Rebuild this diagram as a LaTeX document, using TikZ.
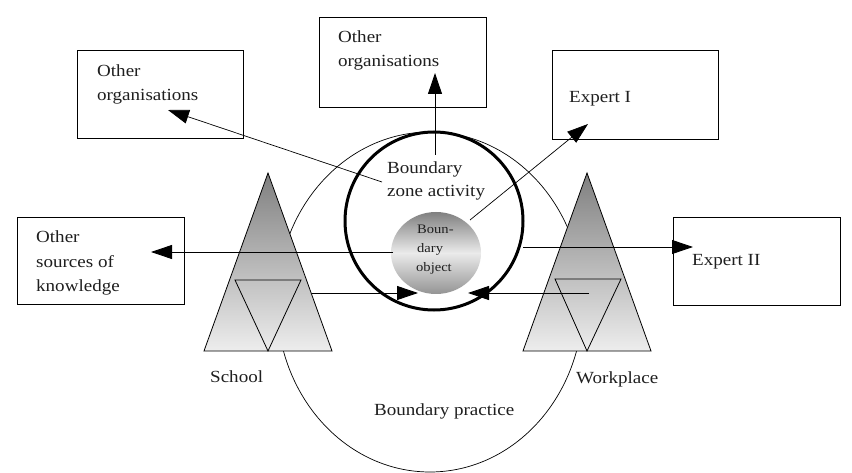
\documentclass[tikz,border=0pt]{standalone}
\usepackage{fontspec}
\setmainfont{Liberation Serif}[FakeStretch=1.12]
\usetikzlibrary{arrows.meta,shapes.geometric}

% banded grey of the boundary object: dark rim at top and bottom, light middle
\pgfdeclareverticalshading{objshade}{100bp}{%
  color(0bp)=(black!42); color(25bp)=(black!42); color(50bp)=(black!8);
  color(75bp)=(black!50); color(100bp)=(black!50)}

\begin{document}
\begin{tikzpicture}[x=1pt,y=-1pt,
  box/.style={draw, line width=1.2pt, inner sep=0pt, anchor=north west},
  lbl/.style={anchor=base west, inner sep=0pt, font=\fontsize{17}{20}\selectfont, text=black!88},
  small/.style={anchor=base west, inner sep=0pt, font=\fontsize{13}{15}\selectfont, text=black!88},
  link/.style={line width=0.9pt, -{Triangle[length=21pt,width=14pt]}},
  tri/.style={draw, line width=0.8pt, top color=black!50, bottom color=black!7},
  inner/.style={draw, line width=0.8pt},
]
\useasboundingbox[fill=white] (0,0) rectangle (852,473);

% outer boxes
\node[box, minimum width=166pt, minimum height=88pt] (orgL) at (77,50) {};
\node[box, minimum width=167pt, minimum height=90pt] (orgT) at (319,17) {};
\node[box, minimum width=166pt, minimum height=89pt] (expI) at (552,50) {};
\node[box, minimum width=167pt, minimum height=87pt] (src) at (17,217) {};
\node[box, minimum width=167pt, minimum height=88pt] (expII) at (673,217) {};

\node[lbl] (orgLa) at (97,77) {Other};
\node[lbl] (orgLb) at (97,101) {organisations};
\node[lbl] (orgTa) at (338,43) {Other};
\node[lbl] (orgTb) at (338,67) {organisations};
\node[lbl] (expIa) at (569,103) {Expert I};
\node[lbl] (srca) at (36,243) {Other};
\node[lbl] (srcb) at (36,268) {sources of};
\node[lbl] (srcc) at (36,291) {knowledge};
\node[lbl] (expIIa) at (692,266) {Expert II};

% boundary practice (thin ring behind the two activity systems)
\draw[line width=0.7pt] (430,302) ellipse [x radius=153pt, y radius=170pt];

% activity systems
\path[tri] (268,173) -- (332,351) -- (204,351) -- cycle;
\draw[inner] (235,280) -- (301,280) -- (268,351) -- cycle;
\path[tri] (587,173) -- (651,351) -- (523,351) -- cycle;
\draw[inner] (555,279) -- (621,279) -- (587,351) -- cycle;

% boundary zone and boundary object
\node[circle, draw, line width=3pt, minimum size=178pt, inner sep=0pt] (zone) at (434,221) {};
\node[ellipse, minimum width=90pt, minimum height=82pt, inner sep=0pt,
      shading=objshade] (obj) at (436,253) {};
\node[small] (objA) at (417,234) {Boun-};
\node[small] (objB) at (417,253) {dary};
\node[small] (objC) at (416,272) {object};

\node[lbl] (zoneA) at (387,174) {Boundary};
\node[lbl] (zoneB) at (387,197) {zone activity};

\node[lbl] (school) at (210,382) {School};
\node[lbl] (work) at (576,383) {Workplace};
\node[lbl] (practice) at (374,415) {Boundary practice};

% connector ends
\coordinate (zUp) at (435,155);
\coordinate (tUp) at (435,73);
\coordinate (zL) at (382,182);
\coordinate (tL) at (168,110);
\coordinate (oR) at (470,220);
\coordinate (tR) at (588,124);
\coordinate (oW) at (393,252);
\coordinate (tW) at (151,252);
\coordinate (zE) at (523,247);
\coordinate (tE) at (693,247);
\coordinate (sE) at (312,293);
\coordinate (tS) at (418,293);
\coordinate (wW) at (589,293);
\coordinate (tWk) at (468,293);

\draw[link] (zUp) -- (tUp);
\draw[link, line width=0.7pt] (zL) -- (tL);
\draw[link, line width=0.7pt] (oR) -- (tR);
\draw[link] (oW) -- (tW);
\draw[link] (zE) -- (tE);
\draw[link] (sE) -- (tS);
\draw[link] (wW) -- (tWk);
\end{tikzpicture}
\end{document}
